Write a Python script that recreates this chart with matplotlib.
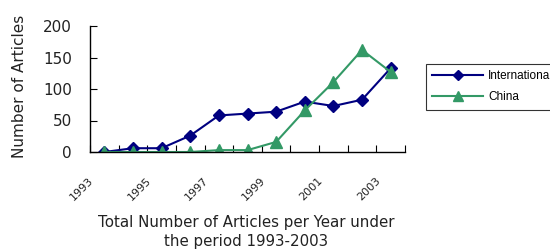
import matplotlib
matplotlib.use("Agg")
import matplotlib.pyplot as plt
import numpy as np

# data
years = [1993, 1994, 1995, 1996, 1997, 1998, 1999, 2000, 2001, 2002, 2003]
international = [0, 6, 6, 26, 58, 61, 64, 80, 73, 83, 133]
china = [0, 0, 0, 0, 3, 3, 16, 66, 111, 162, 127]
yticks = [0, 50, 100, 150, 200]

plt.rcParams['font.family'] = ['DejaVu Sans']

fig = plt.figure(figsize=(5.5, 2.52), dpi=100)
ax = fig.add_axes([90 / 550, 1 - 152 / 252, 315 / 550, 126 / 252])

x = np.arange(len(years))
ax.plot(x, international, color="#000080", marker="D", markersize=6.5,
        linewidth=1.5, label="International")
ax.plot(x, china, color="#339966", marker="^", markersize=8.5,
        linewidth=1.5, label="China")

ax.set_xlim(-0.5, len(years) - 0.5)
ax.set_ylim(0, 200)
ax.set_yticks(yticks)
ax.tick_params(axis="y", direction="in", length=5, labelsize=11, pad=13,
               labelcolor="#222222")

# category ticks sit between categories, labels only on odd years
ax.set_xticks(np.arange(len(years) + 1) - 0.5)
ax.set_xticklabels([])
ax.tick_params(axis="x", direction="in", length=5)
for i, yr in enumerate(years):
    if i % 2 == 0:
        ax.text(i - 0.55, -37, str(yr), rotation=45, ha="right", va="top",
                rotation_mode="anchor", fontsize=8, transform=ax.transData,
                clip_on=False, color="#222222")

for s in ["top", "right"]:
    ax.spines[s].set_visible(False)
for s in ["left", "bottom"]:
    ax.spines[s].set_color("black")
    ax.spines[s].set_linewidth(1)

ax.set_ylabel("Number of Articles", fontsize=11, color="#222222")
ax.yaxis.set_label_coords(27 / 550, 1 - 86 / 252, transform=fig.transFigure)
fig.text(246 / 550, 1 - 232 / 252, "Total Number of Articles per Year under\nthe period 1993-2003",
         ha="center", va="center", fontsize=10.8, linespacing=1.35, color="#222222")

leg = ax.legend(loc="upper left", bbox_to_anchor=(426 / 550, 1 - 64 / 252),
                bbox_transform=fig.transFigure, fancybox=False, edgecolor="black",
                prop={"family": "Liberation Sans", "size": 8.5}, handlelength=4.3,
                borderpad=0.55, labelspacing=0.75, handletextpad=0.4,
                markerscale=0.8, borderaxespad=0)
leg.get_frame().set_linewidth(0.8)

fig.savefig("out.png", dpi=100)
